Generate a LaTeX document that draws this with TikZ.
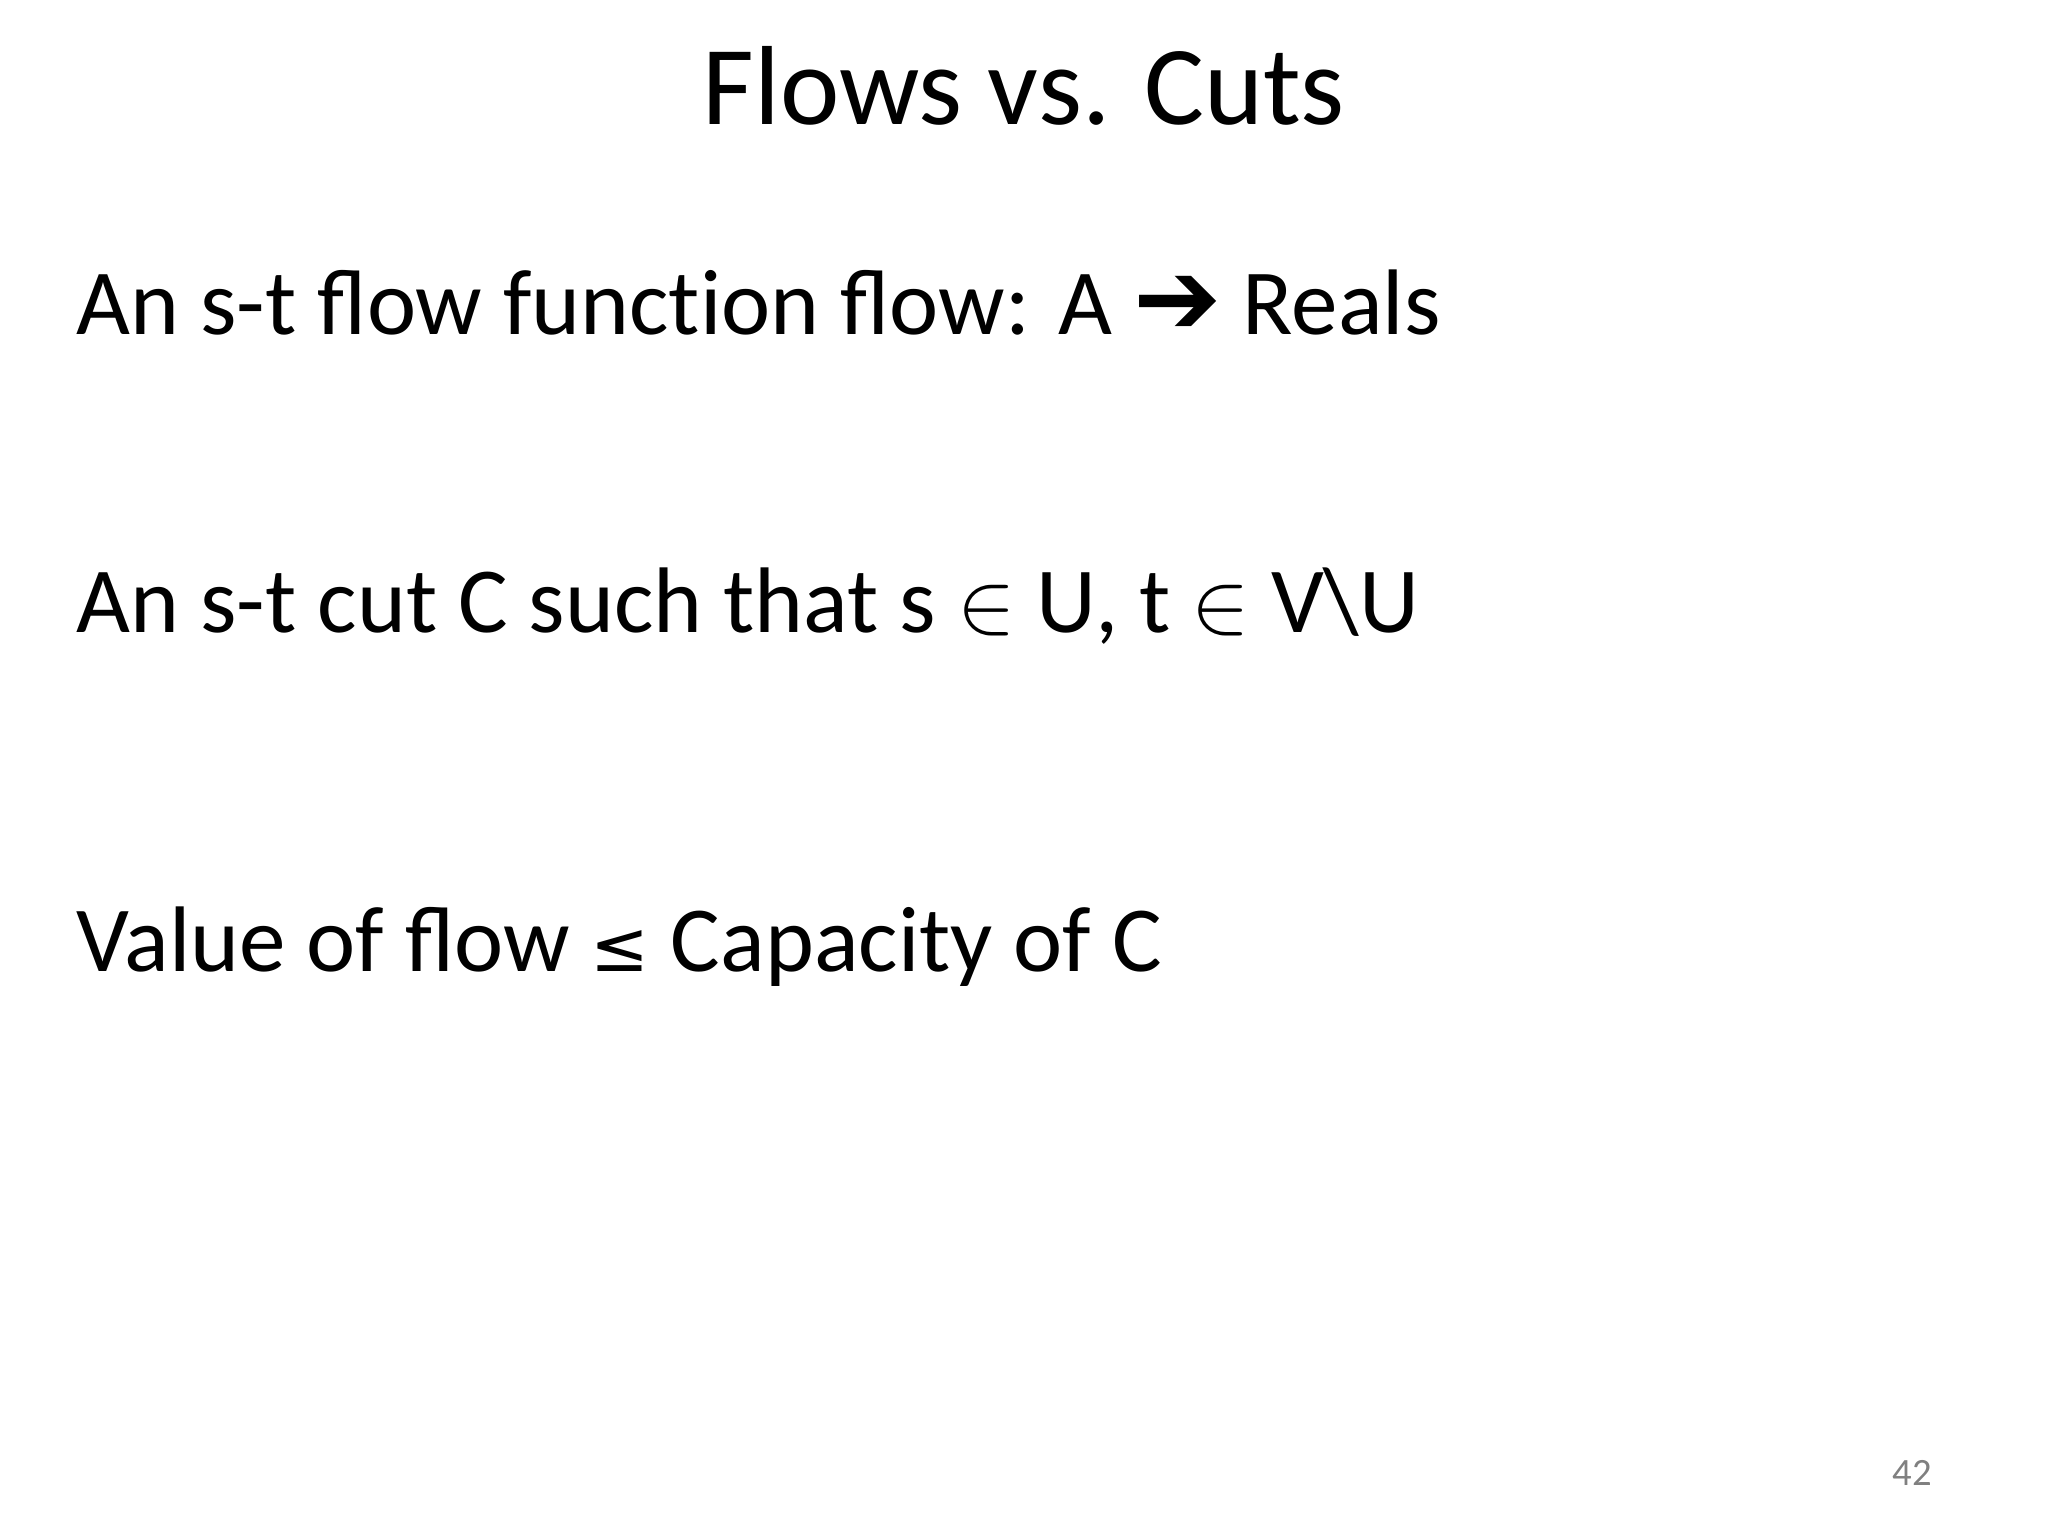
\documentclass[tikz,border=0pt]{standalone}
\usepackage{fontspec}
\setmainfont{Carlito}
\newfontfamily\dejavu{DejaVu Sans}
\begin{document}
\begin{tikzpicture}
\useasboundingbox (0,0) rectangle (20.48,15.36);
\tikzset{body/.style={anchor=base west,inner sep=0pt,font=\fontsize{26.5}{32}\selectfont}}
\node[anchor=base,inner sep=0pt,font=\fontsize{32}{38}\selectfont] (title) at (10.24,14.11) {Flows vs. Cuts};
\node[body] (l1) at (0.76,12.01) {An s-t flow func\kern0pt t\kern0pt ion flow: A {\dejavu\bfseries\fontsize{30}{32}\selectfont ➔} Reals};
\node[body] (l2) at (0.76,9.03) {An s-t cut C such that s $\in$ U, t $\in$ V\textbackslash U};
\node[body] (l3) at (0.76,5.64) {Value of flow {\dejavu\fontsize{20}{28}\selectfont ≤} Capacity of C};
\node[anchor=base,inner sep=0pt,text=gray,font=\fontsize{11}{13}\selectfont] (num) at (19.12,0.50) {42};
\end{tikzpicture}
\end{document}
